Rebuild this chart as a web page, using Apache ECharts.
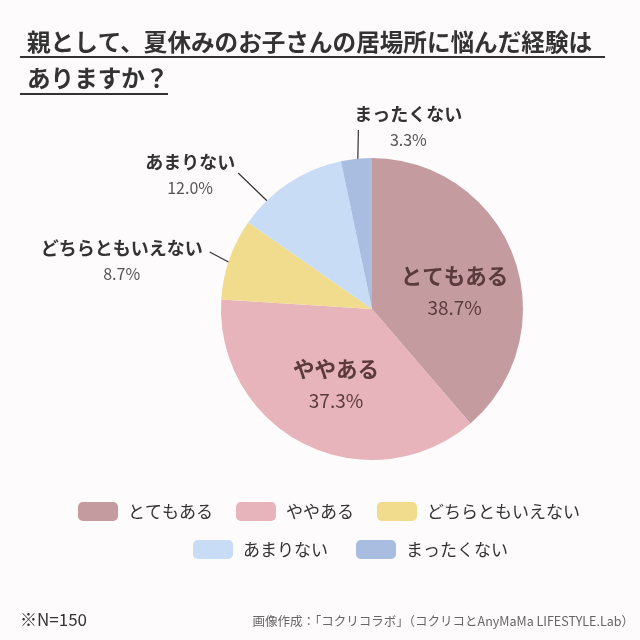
<!DOCTYPE html>
<html>
<head>
<meta charset="utf-8">
<script src="https://cdn.jsdelivr.net/npm/echarts@6/dist/echarts.min.js"></script>
<style>
  html, body { margin: 0; padding: 0; background: #fdfbfc; }
  #chart { width: 640px; height: 640px; }
</style>
</head>
<body>
<div id="chart"></div>
<script>
// 回答カテゴリと割合（%）
const categories = ['とてもある', 'ややある', 'どちらともいえない', 'あまりない', 'まったくない'];
const percents = [38.7, 37.3, 8.7, 12.0, 3.3];
const colors = ['#c49ca0', '#e6b4ba', '#f0dc8c', '#c8dcf6', '#a9bde0'];
const legendRow1 = ['とてもある', 'ややある', 'どちらともいえない'];
const legendRow2 = ['あまりない', 'まったくない'];

const titleLines = ['親として、夏休みのお子さんの居場所に悩んだ経験は', 'ありますか？'];
const noteText = '※N=150';
const sourceText = '画像作成：「コクリコラボ」（コクリコとAnyMaMa LIFESTYLE.Lab）';

const FONT = '"Noto Sans CJK JP", "Noto Sans", sans-serif';
const C = [372, 309];   // 円の中心
const R = 151;          // 半径

// 円の中に書くラベル
const insideShift = { 'とてもある': [9, 11], 'ややある': [-1, 6] };
// 外に出すラベル（引き出し線つき）
const calloutLayout = {
  'どちらともいえない': { len: 22, turn: -2, ex: 1, ey: 0, align: 'right', gap: 7, dy: 9 },
  'あまりない': { len: 30, turn: -10.5, ex: -34, ey: 15, align: 'right', gap: 3, dy: 2 },
  'まったくない': { len: 29, turn: 0, ex: 5, ey: 0, align: 'left', gap: -4, dy: -3 }
};

function placeLabel(params) {
  const name = categories[params.dataIndex];
  const rect = params.labelRect;
  if (insideShift[name]) {
    const s = insideShift[name];
    return {
      x: rect.x + rect.width / 2 + s[0],
      y: rect.y + rect.height / 2 + s[1],
      align: 'center',
      verticalAlign: 'middle'
    };
  }
  const c = calloutLayout[name];
  const p0 = params.labelLinePoints[0];
  const vx = p0[0] - C[0], vy = p0[1] - C[1];
  const len = Math.hypot(vx, vy);
  const ux = vx / len, uy = vy / len;
  const end = [p0[0] + ux * c.len + c.ex, p0[1] + uy * c.len + c.ey];
  // 線の始点は扇形の内側から
  const t = c.turn * Math.PI / 180;
  const k = (R - 12) / R;
  const sx = C[0] + (vx * Math.cos(t) - vy * Math.sin(t)) * k;
  const sy = C[1] + (vx * Math.sin(t) + vy * Math.cos(t)) * k;
  return {
    x: c.align === 'right' ? end[0] - c.gap : end[0] + c.gap,
    y: end[1] + c.dy,
    align: c.align,
    verticalAlign: 'middle',
    labelLinePoints: [[sx, sy], end]
  };
}

const chart = echarts.init(document.getElementById('chart'));

const legendCommon = {
  orient: 'horizontal',
  icon: 'roundRect',
  itemWidth: 40,
  itemHeight: 19,
  padding: 0,
  selectedMode: false,
  textStyle: { fontFamily: FONT, fontSize: 17, color: '#333', padding: [0, 0, 0, 5] }
};

const option = {
  backgroundColor: '#fdfbfc',
  animation: false,
  legend: [
    Object.assign({}, legendCommon, { data: legendRow1, left: 78, top: 502, itemGap: 23 }),
    Object.assign({}, legendCommon, { data: legendRow2, left: 193, top: 540, itemGap: 28 })
  ],
  graphic: [
    {
      type: 'text', x: 27, y: 42,
      style: { text: titleLines[0], font: 'bold 23.6px ' + FONT, fill: '#333', verticalAlign: 'middle' }
    },
    {
      type: 'text', x: 27, y: 78,
      style: { text: titleLines[1], font: 'bold 23.6px ' + FONT, fill: '#333', verticalAlign: 'middle' }
    },
    { type: 'line', shape: { x1: 20, y1: 57, x2: 605, y2: 57 }, style: { stroke: '#333', lineWidth: 2 } },
    { type: 'line', shape: { x1: 20, y1: 94, x2: 168, y2: 94 }, style: { stroke: '#333', lineWidth: 2 } },
    {
      type: 'text', x: 20, y: 620,
      style: { text: noteText, font: '17px ' + FONT, fill: '#333', verticalAlign: 'middle' }
    },
    {
      type: 'text', x: 634, y: 621,
      style: { text: sourceText, font: '12.5px ' + FONT, fill: '#666', align: 'right', verticalAlign: 'middle' }
    }
  ],
  series: [
    {
      type: 'pie',
      center: C,
      radius: R,
      startAngle: 90,
      clockwise: true,
      avoidLabelOverlap: false,
      silent: true,
      itemStyle: { borderWidth: 0 },
      label: {
        show: true,
        position: 'outside',
        fontFamily: FONT,
        formatter: function (p) {
          const v = p.value.toFixed(1) + '%';
          if (insideShift[p.name]) {
            return '{bn|' + p.name + '}\n{bp|' + v + '}';
          }
          return '{n|' + p.name + '}\n{p|' + v + '}';
        },
        rich: {
          bn: { fontFamily: FONT, fontSize: 21.5, fontWeight: 'bold', color: '#5a3a3c', lineHeight: 32, align: 'center' },
          bp: { fontFamily: FONT, fontSize: 19, color: '#5a3a3c', lineHeight: 32, align: 'center' },
          n: { fontFamily: FONT, fontSize: 18, fontWeight: 'bold', color: '#333', lineHeight: 26, align: 'center' },
          p: { fontFamily: FONT, fontSize: 16, color: '#555', lineHeight: 26, align: 'center' }
        }
      },
      labelLine: {
        show: true,
        length: 20,
        length2: 0,
        lineStyle: { color: '#333', width: 1.2 }
      },
      labelLayout: placeLabel,
      data: categories.map(function (name, i) {
        const item = { name: name, value: percents[i], itemStyle: { color: colors[i] } };
        if (insideShift[name]) {
          item.label = { position: 'inside' };
          item.labelLine = { show: false };
        }
        return item;
      })
    }
  ]
};

chart.setOption(option);
</script>
</body>
</html>
